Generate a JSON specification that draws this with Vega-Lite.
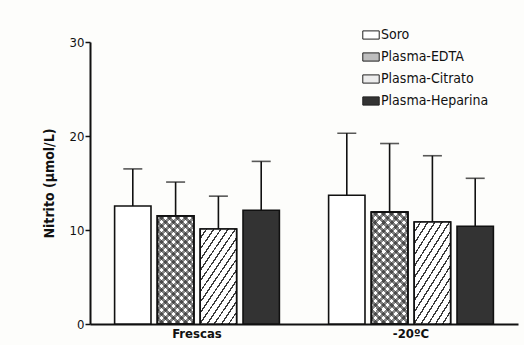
{
  "$schema": "https://vega.github.io/schema/vega-lite/v6.json",
  "width": 428,
  "height": 282,
  "autosize": "none",
  "padding": {"left": 90, "top": 42, "right": 6, "bottom": 21},
  "background": "#fdfdfb",
  "config": {
    "font": "Liberation Sans Narrow, DejaVu Sans Condensed, sans-serif",
    "view": {"stroke": null}
  },
  "data": {
    "values": [
      {"grupo": "Frescas", "amostra": "Soro", "media": 12.55, "sup": 16.5},
      {"grupo": "Frescas", "amostra": "Plasma-EDTA", "media": 11.5, "sup": 15.1},
      {"grupo": "Frescas", "amostra": "Plasma-Citrato", "media": 10.1, "sup": 13.6},
      {"grupo": "Frescas", "amostra": "Plasma-Heparina", "media": 12.1, "sup": 17.3},
      {"grupo": "-20ºC", "amostra": "Soro", "media": 13.7, "sup": 20.3},
      {"grupo": "-20ºC", "amostra": "Plasma-EDTA", "media": 11.9, "sup": 19.2},
      {"grupo": "-20ºC", "amostra": "Plasma-Citrato", "media": 10.85, "sup": 17.9},
      {"grupo": "-20ºC", "amostra": "Plasma-Heparina", "media": 10.4, "sup": 15.5}
    ]
  },
  "encoding": {
    "x": {
      "field": "grupo", "type": "nominal",
      "scale": {"domain": ["Frescas", "-20ºC"], "paddingInner": 0.23, "paddingOuter": 0.115},
      "axis": {"title": null, "ticks": false, "labelAngle": 0, "labelFontSize": 13, "labelFontWeight": "bold", "labelColor": "#111", "labelPadding": 3, "domainColor": "#111", "domainWidth": 2}
    },
    "xOffset": {
      "field": "amostra", "type": "nominal",
      "scale": {"domain": ["Soro", "Plasma-EDTA", "Plasma-Citrato", "Plasma-Heparina"], "paddingInner": 0.15, "paddingOuter": 0}
    },
    "y": {
      "field": "media", "type": "quantitative",
      "scale": {"domain": [0, 30], "nice": false},
      "axis": {"values": [0, 10, 20, 30], "title": "Nitrito (µmol/L)", "titleFontSize": 14, "titleFontWeight": "bold", "titleColor": "#111", "titlePadding": 13, "labelFontSize": 13, "labelColor": "#111", "labelPadding": 1, "tickSize": 5, "tickColor": "#111", "tickWidth": 1.5, "domainColor": "#111", "domainWidth": 2, "grid": false}
    }
  },
  "layer": [
    {
      "mark": {"type": "rule", "stroke": "#111", "strokeWidth": 1.6},
      "encoding": {
        "y": {"field": "media", "type": "quantitative"},
        "y2": {"field": "sup"}
      }
    },
    {
      "mark": {"type": "tick", "color": "#111", "size": 19, "thickness": 1.6, "orient": "horizontal"},
      "encoding": {
        "y": {"field": "sup", "type": "quantitative"}
      }
    },
    {
      "mark": {"type": "bar", "stroke": "#111", "strokeWidth": 1.6, "opacity": 1, "fillOpacity": 1},
      "encoding": {
        "fill": {
          "field": "amostra", "type": "nominal",
          "scale": {"domain": ["Soro", "Plasma-EDTA", "Plasma-Citrato", "Plasma-Heparina"], "range": ["#ffffff", "#bdbdbd", "#ececec", "#333333"]},
          "legend": {
            "title": null, "orient": "none", "legendX": 272, "legendY": -16,
            "symbolType": "M-1,-0.5H1V0.5H-1Z", "symbolSize": 270, "symbolStrokeColor": "#222", "symbolStrokeWidth": 1,
            "labelFontSize": 14, "labelColor": "#111", "labelOffset": 1, "rowPadding": 6
          }
        }
      }
    },
    {
      "transform": [{"filter": "datum.amostra === 'Plasma-EDTA'"}],
      "mark": {
        "type": "bar", "stroke": "#111", "strokeWidth": 1.6,
        "fill": {
          "gradient": "linear", "x1": 0, "y1": 0, "x2": 0.4, "y2": 1.2,
          "stops": [
            {"offset": 0, "color": "#ffffff"}, {"offset": 0.0278, "color": "#ffffff"}, {"offset": 0.0278, "color": "#8a8a8a"}, {"offset": 0.0556, "color": "#8a8a8a"},
            {"offset": 0.0556, "color": "#ffffff"}, {"offset": 0.0833, "color": "#ffffff"}, {"offset": 0.0833, "color": "#8a8a8a"}, {"offset": 0.1111, "color": "#8a8a8a"},
            {"offset": 0.1111, "color": "#ffffff"}, {"offset": 0.1389, "color": "#ffffff"}, {"offset": 0.1389, "color": "#8a8a8a"}, {"offset": 0.1667, "color": "#8a8a8a"},
            {"offset": 0.1667, "color": "#ffffff"}, {"offset": 0.1944, "color": "#ffffff"}, {"offset": 0.1944, "color": "#8a8a8a"}, {"offset": 0.2222, "color": "#8a8a8a"},
            {"offset": 0.2222, "color": "#ffffff"}, {"offset": 0.25, "color": "#ffffff"}, {"offset": 0.25, "color": "#8a8a8a"}, {"offset": 0.2778, "color": "#8a8a8a"},
            {"offset": 0.2778, "color": "#ffffff"}, {"offset": 0.3056, "color": "#ffffff"}, {"offset": 0.3056, "color": "#8a8a8a"}, {"offset": 0.3333, "color": "#8a8a8a"},
            {"offset": 0.3333, "color": "#ffffff"}, {"offset": 0.3611, "color": "#ffffff"}, {"offset": 0.3611, "color": "#8a8a8a"}, {"offset": 0.3889, "color": "#8a8a8a"},
            {"offset": 0.3889, "color": "#ffffff"}, {"offset": 0.4167, "color": "#ffffff"}, {"offset": 0.4167, "color": "#8a8a8a"}, {"offset": 0.4444, "color": "#8a8a8a"},
            {"offset": 0.4444, "color": "#ffffff"}, {"offset": 0.4722, "color": "#ffffff"}, {"offset": 0.4722, "color": "#8a8a8a"}, {"offset": 0.5, "color": "#8a8a8a"},
            {"offset": 0.5, "color": "#ffffff"}, {"offset": 0.5278, "color": "#ffffff"}, {"offset": 0.5278, "color": "#8a8a8a"}, {"offset": 0.5556, "color": "#8a8a8a"},
            {"offset": 0.5556, "color": "#ffffff"}, {"offset": 0.5833, "color": "#ffffff"}, {"offset": 0.5833, "color": "#8a8a8a"}, {"offset": 0.6111, "color": "#8a8a8a"},
            {"offset": 0.6111, "color": "#ffffff"}, {"offset": 0.6389, "color": "#ffffff"}, {"offset": 0.6389, "color": "#8a8a8a"}, {"offset": 0.6667, "color": "#8a8a8a"},
            {"offset": 0.6667, "color": "#ffffff"}, {"offset": 0.6944, "color": "#ffffff"}, {"offset": 0.6944, "color": "#8a8a8a"}, {"offset": 0.7222, "color": "#8a8a8a"},
            {"offset": 0.7222, "color": "#ffffff"}, {"offset": 0.75, "color": "#ffffff"}, {"offset": 0.75, "color": "#8a8a8a"}, {"offset": 0.7778, "color": "#8a8a8a"},
            {"offset": 0.7778, "color": "#ffffff"}, {"offset": 0.8056, "color": "#ffffff"}, {"offset": 0.8056, "color": "#8a8a8a"}, {"offset": 0.8333, "color": "#8a8a8a"},
            {"offset": 0.8333, "color": "#ffffff"}, {"offset": 0.8611, "color": "#ffffff"}, {"offset": 0.8611, "color": "#8a8a8a"}, {"offset": 0.8889, "color": "#8a8a8a"},
            {"offset": 0.8889, "color": "#ffffff"}, {"offset": 0.9167, "color": "#ffffff"}, {"offset": 0.9167, "color": "#8a8a8a"}, {"offset": 0.9444, "color": "#8a8a8a"},
            {"offset": 0.9444, "color": "#ffffff"}, {"offset": 0.9722, "color": "#ffffff"}, {"offset": 0.9722, "color": "#8a8a8a"}, {"offset": 1, "color": "#8a8a8a"}
          ]
        }
      },
      "encoding": {}
    },
    {
      "transform": [{"filter": "datum.amostra === 'Plasma-EDTA'"}],
      "mark": {
        "type": "bar", "stroke": "#111", "strokeWidth": 1.6,
        "fill": {
          "gradient": "linear", "x1": 0, "y1": 1, "x2": 0.4, "y2": -0.2,
          "stops": [
            {"offset": 0, "color": "rgba(0,0,0,0)"}, {"offset": 0.0278, "color": "rgba(0,0,0,0)"}, {"offset": 0.0278, "color": "rgba(20,20,20,0.55)"}, {"offset": 0.0556, "color": "rgba(20,20,20,0.55)"},
            {"offset": 0.0556, "color": "rgba(0,0,0,0)"}, {"offset": 0.0833, "color": "rgba(0,0,0,0)"}, {"offset": 0.0833, "color": "rgba(20,20,20,0.55)"}, {"offset": 0.1111, "color": "rgba(20,20,20,0.55)"},
            {"offset": 0.1111, "color": "rgba(0,0,0,0)"}, {"offset": 0.1389, "color": "rgba(0,0,0,0)"}, {"offset": 0.1389, "color": "rgba(20,20,20,0.55)"}, {"offset": 0.1667, "color": "rgba(20,20,20,0.55)"},
            {"offset": 0.1667, "color": "rgba(0,0,0,0)"}, {"offset": 0.1944, "color": "rgba(0,0,0,0)"}, {"offset": 0.1944, "color": "rgba(20,20,20,0.55)"}, {"offset": 0.2222, "color": "rgba(20,20,20,0.55)"},
            {"offset": 0.2222, "color": "rgba(0,0,0,0)"}, {"offset": 0.25, "color": "rgba(0,0,0,0)"}, {"offset": 0.25, "color": "rgba(20,20,20,0.55)"}, {"offset": 0.2778, "color": "rgba(20,20,20,0.55)"},
            {"offset": 0.2778, "color": "rgba(0,0,0,0)"}, {"offset": 0.3056, "color": "rgba(0,0,0,0)"}, {"offset": 0.3056, "color": "rgba(20,20,20,0.55)"}, {"offset": 0.3333, "color": "rgba(20,20,20,0.55)"},
            {"offset": 0.3333, "color": "rgba(0,0,0,0)"}, {"offset": 0.3611, "color": "rgba(0,0,0,0)"}, {"offset": 0.3611, "color": "rgba(20,20,20,0.55)"}, {"offset": 0.3889, "color": "rgba(20,20,20,0.55)"},
            {"offset": 0.3889, "color": "rgba(0,0,0,0)"}, {"offset": 0.4167, "color": "rgba(0,0,0,0)"}, {"offset": 0.4167, "color": "rgba(20,20,20,0.55)"}, {"offset": 0.4444, "color": "rgba(20,20,20,0.55)"},
            {"offset": 0.4444, "color": "rgba(0,0,0,0)"}, {"offset": 0.4722, "color": "rgba(0,0,0,0)"}, {"offset": 0.4722, "color": "rgba(20,20,20,0.55)"}, {"offset": 0.5, "color": "rgba(20,20,20,0.55)"},
            {"offset": 0.5, "color": "rgba(0,0,0,0)"}, {"offset": 0.5278, "color": "rgba(0,0,0,0)"}, {"offset": 0.5278, "color": "rgba(20,20,20,0.55)"}, {"offset": 0.5556, "color": "rgba(20,20,20,0.55)"},
            {"offset": 0.5556, "color": "rgba(0,0,0,0)"}, {"offset": 0.5833, "color": "rgba(0,0,0,0)"}, {"offset": 0.5833, "color": "rgba(20,20,20,0.55)"}, {"offset": 0.6111, "color": "rgba(20,20,20,0.55)"},
            {"offset": 0.6111, "color": "rgba(0,0,0,0)"}, {"offset": 0.6389, "color": "rgba(0,0,0,0)"}, {"offset": 0.6389, "color": "rgba(20,20,20,0.55)"}, {"offset": 0.6667, "color": "rgba(20,20,20,0.55)"},
            {"offset": 0.6667, "color": "rgba(0,0,0,0)"}, {"offset": 0.6944, "color": "rgba(0,0,0,0)"}, {"offset": 0.6944, "color": "rgba(20,20,20,0.55)"}, {"offset": 0.7222, "color": "rgba(20,20,20,0.55)"},
            {"offset": 0.7222, "color": "rgba(0,0,0,0)"}, {"offset": 0.75, "color": "rgba(0,0,0,0)"}, {"offset": 0.75, "color": "rgba(20,20,20,0.55)"}, {"offset": 0.7778, "color": "rgba(20,20,20,0.55)"},
            {"offset": 0.7778, "color": "rgba(0,0,0,0)"}, {"offset": 0.8056, "color": "rgba(0,0,0,0)"}, {"offset": 0.8056, "color": "rgba(20,20,20,0.55)"}, {"offset": 0.8333, "color": "rgba(20,20,20,0.55)"},
            {"offset": 0.8333, "color": "rgba(0,0,0,0)"}, {"offset": 0.8611, "color": "rgba(0,0,0,0)"}, {"offset": 0.8611, "color": "rgba(20,20,20,0.55)"}, {"offset": 0.8889, "color": "rgba(20,20,20,0.55)"},
            {"offset": 0.8889, "color": "rgba(0,0,0,0)"}, {"offset": 0.9167, "color": "rgba(0,0,0,0)"}, {"offset": 0.9167, "color": "rgba(20,20,20,0.55)"}, {"offset": 0.9444, "color": "rgba(20,20,20,0.55)"},
            {"offset": 0.9444, "color": "rgba(0,0,0,0)"}, {"offset": 0.9722, "color": "rgba(0,0,0,0)"}, {"offset": 0.9722, "color": "rgba(20,20,20,0.55)"}, {"offset": 1, "color": "rgba(20,20,20,0.55)"}
          ]
        }
      },
      "encoding": {}
    },
    {
      "transform": [{"filter": "datum.amostra === 'Plasma-Citrato'"}],
      "mark": {
        "type": "bar", "stroke": "#111", "strokeWidth": 1.6,
        "fill": {
          "gradient": "linear", "x1": 0, "y1": 0, "x2": 0.671, "y2": 1.186,
          "stops": [
            {"offset": 0, "color": "#ffffff"}, {"offset": 0.0557, "color": "#ffffff"}, {"offset": 0.0557, "color": "#3a3a3a"}, {"offset": 0.0714, "color": "#3a3a3a"},
            {"offset": 0.0714, "color": "#ffffff"}, {"offset": 0.1271, "color": "#ffffff"}, {"offset": 0.1271, "color": "#3a3a3a"}, {"offset": 0.1429, "color": "#3a3a3a"},
            {"offset": 0.1429, "color": "#ffffff"}, {"offset": 0.1986, "color": "#ffffff"}, {"offset": 0.1986, "color": "#3a3a3a"}, {"offset": 0.2143, "color": "#3a3a3a"},
            {"offset": 0.2143, "color": "#ffffff"}, {"offset": 0.27, "color": "#ffffff"}, {"offset": 0.27, "color": "#3a3a3a"}, {"offset": 0.2857, "color": "#3a3a3a"},
            {"offset": 0.2857, "color": "#ffffff"}, {"offset": 0.3414, "color": "#ffffff"}, {"offset": 0.3414, "color": "#3a3a3a"}, {"offset": 0.3571, "color": "#3a3a3a"},
            {"offset": 0.3571, "color": "#ffffff"}, {"offset": 0.4129, "color": "#ffffff"}, {"offset": 0.4129, "color": "#3a3a3a"}, {"offset": 0.4286, "color": "#3a3a3a"},
            {"offset": 0.4286, "color": "#ffffff"}, {"offset": 0.4843, "color": "#ffffff"}, {"offset": 0.4843, "color": "#3a3a3a"}, {"offset": 0.5, "color": "#3a3a3a"},
            {"offset": 0.5, "color": "#ffffff"}, {"offset": 0.5557, "color": "#ffffff"}, {"offset": 0.5557, "color": "#3a3a3a"}, {"offset": 0.5714, "color": "#3a3a3a"},
            {"offset": 0.5714, "color": "#ffffff"}, {"offset": 0.6271, "color": "#ffffff"}, {"offset": 0.6271, "color": "#3a3a3a"}, {"offset": 0.6429, "color": "#3a3a3a"},
            {"offset": 0.6429, "color": "#ffffff"}, {"offset": 0.6986, "color": "#ffffff"}, {"offset": 0.6986, "color": "#3a3a3a"}, {"offset": 0.7143, "color": "#3a3a3a"},
            {"offset": 0.7143, "color": "#ffffff"}, {"offset": 0.77, "color": "#ffffff"}, {"offset": 0.77, "color": "#3a3a3a"}, {"offset": 0.7857, "color": "#3a3a3a"},
            {"offset": 0.7857, "color": "#ffffff"}, {"offset": 0.8414, "color": "#ffffff"}, {"offset": 0.8414, "color": "#3a3a3a"}, {"offset": 0.8571, "color": "#3a3a3a"},
            {"offset": 0.8571, "color": "#ffffff"}, {"offset": 0.9129, "color": "#ffffff"}, {"offset": 0.9129, "color": "#3a3a3a"}, {"offset": 0.9286, "color": "#3a3a3a"},
            {"offset": 0.9286, "color": "#ffffff"}, {"offset": 0.9843, "color": "#ffffff"}, {"offset": 0.9843, "color": "#3a3a3a"}, {"offset": 1, "color": "#3a3a3a"}
          ]
        }
      },
      "encoding": {}
    }
  ]
}
